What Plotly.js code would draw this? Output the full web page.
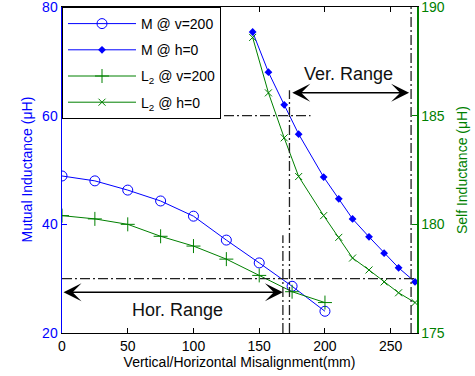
<!DOCTYPE html>
<html>
<head>
<meta charset="utf-8">
<script src="https://cdn.plot.ly/plotly-3.0.1.min.js"></script>
<style>html,body{margin:0;padding:0;background:#fff;}#plot{width:475px;height:376px;}</style>
</head>
<body>
<div id="plot"></div>
<script>
// Data
const xV = [0, 25, 50, 75, 100, 125, 150, 175, 200];
const M_v200 = [48.9, 48.0, 46.3, 44.3, 41.5, 37.1, 32.9, 28.6, 24.0];
const L2_v200 = [180.4, 180.25, 180.0, 179.45, 179.0, 178.4, 177.65, 176.9, 176.4];

const xH = [145, 157, 169, 180, 199, 210.5, 221, 233.5, 245, 256, 268.5];
const M_h0 = [75.4, 68.0, 62.0, 56.6, 48.7, 44.7, 41.0, 37.7, 34.7, 32.0, 29.4];
const L2_h0 = [188.6, 186.05, 183.98, 182.2, 180.4, 179.4, 178.45, 177.9, 177.35, 176.85, 176.4];

const xTicks = [0, 50, 100, 150, 200, 250];
const yTicks = [20, 40, 60, 80];
const y2Ticks = [175, 180, 185, 190];

// Guide lines (dash-dot) and range arrows
const hGuideY = [60, 30];
const hGuideXEnd = [189, 270];
const vGuideX = [168, 173, 265.5];
const vGuideYTop = [38, 64.7, 80];
const horRange = {x0: 0, x1: 168, y: 27.5, label: 'Hor. Range', lx: 88, ly: 24.3};
const verRange = {x0: 174, x1: 264, y: 64.2, label: 'Ver. Range', lx: 218, ly: 67.7};

const BLUE = '#0000ff';
const GREEN = '#008000';
const FONT = 'Arial, "Liberation Sans", sans-serif';

const traces = [
  {x: xV, y: M_v200, name: 'M @ v=200', mode: 'lines+markers', yaxis: 'y', legendgroup: 'a',
   line: {color: BLUE, width: 1}, marker: {symbol: 'circle-open', size: 10, color: BLUE, line: {width: 1}}},
  {x: xH, y: M_h0, name: 'M @ h=0', mode: 'lines+markers', yaxis: 'y', legendgroup: 'b',
   line: {color: BLUE, width: 1}, marker: {symbol: 'diamond', size: 6, color: BLUE}},
  {x: xV, y: L2_v200, name: 'L<sub>2</sub> @ v=200', mode: 'lines+markers', yaxis: 'y2', legendgroup: 'c',
   line: {color: GREEN, width: 1}, marker: {symbol: 'cross-thin-open', size: 10, color: GREEN, line: {width: 1, color: GREEN}}},
  {x: xH, y: L2_h0, name: 'L<sub>2</sub> @ h=0', mode: 'lines+markers', yaxis: 'y2', legendgroup: 'd',
   line: {color: GREEN, width: 1}, marker: {symbol: 'x-thin-open', size: 7, color: GREEN, line: {width: 1, color: GREEN}}}
];

const dash = '10px,3px,2px,3px';
const shapes = [];
hGuideY.forEach((y, i) => shapes.push({type: 'line', xref: 'x', yref: 'y', x0: 0, x1: hGuideXEnd[i], y0: y, y1: y,
  line: {color: '#222', width: 1.3, dash: dash}}));
vGuideX.forEach((x, i) => shapes.push({type: 'line', xref: 'x', yref: 'y', x0: x, x1: x, y0: 20, y1: vGuideYTop[i],
  line: {color: '#222', width: 1.3, dash: dash}}));

function rangeArrow(r) {
  return {xref: 'x', yref: 'y', axref: 'x', ayref: 'y', x: r.x1, y: r.y, ax: r.x0, ay: r.y,
    text: '', showarrow: true, arrowside: 'end+start', arrowhead: 3, arrowsize: 2, arrowwidth: 1.5, arrowcolor: '#000'};
}
function rangeLabel(r) {
  return {xref: 'x', yref: 'y', x: r.lx, y: r.ly, text: r.label, showarrow: false,
    font: {family: FONT, size: 18, color: '#111'}};
}
const annotations = [
  rangeArrow(horRange), rangeArrow(verRange), rangeLabel(horRange), rangeLabel(verRange),
  {xref: 'paper', yref: 'paper', x: -0.1, y: 0.5, xanchor: 'center', yanchor: 'middle', textangle: -90,
   text: 'Mutual Inductance (μH)', showarrow: false, font: {family: FONT, size: 14, color: BLUE}},
  {xref: 'paper', yref: 'paper', x: 1.127, y: 0.5, xanchor: 'center', yanchor: 'middle', textangle: -90,
   text: 'Self Inductance (μH)', showarrow: false, font: {family: FONT, size: 14, color: GREEN}}
];

const layout = {
  width: 475, height: 376,
  margin: {l: 62, r: 58, t: 7, b: 43, pad: 0},
  paper_bgcolor: '#fff', plot_bgcolor: '#fff',
  font: {family: FONT, size: 14, color: '#000'},
  showlegend: true,
  legend: {x: 0, y: 1, xanchor: 'left', yanchor: 'top', bgcolor: '#fff', bordercolor: '#000', borderwidth: 1,
    font: {family: FONT, size: 14, color: '#000'}, traceorder: 'grouped', tracegroupgap: 5, itemwidth: 68},
  xaxis: {range: [0, 270], tickvals: xTicks, ticks: 'inside', ticklen: 5, tickcolor: '#000',
    showline: true, linecolor: '#000', linewidth: 1, mirror: 'ticks', showgrid: false, zeroline: false,
    tickfont: {family: FONT, size: 14, color: '#000'}, ticklabeloverflow: 'allow',
    title: {text: 'Vertical/Horizontal Misalignment(mm)', font: {family: FONT, size: 14, color: '#000'}, standoff: 4}},
  yaxis: {range: [20, 80], tickvals: yTicks, ticks: 'inside', ticklen: 5, tickcolor: BLUE,
    showline: true, linecolor: BLUE, linewidth: 1.5, showgrid: false, zeroline: false,
    tickfont: {family: FONT, size: 14, color: BLUE}, ticklabeloverflow: 'allow'},
  yaxis2: {range: [175, 190], tickvals: y2Ticks, overlaying: 'y', side: 'right', ticks: 'inside', ticklen: 5, tickcolor: GREEN,
    showline: true, linecolor: GREEN, linewidth: 1.5, showgrid: false, zeroline: false,
    tickfont: {family: FONT, size: 14, color: GREEN}, ticklabeloverflow: 'allow'},
  shapes: shapes,
  annotations: annotations
};

Plotly.newPlot('plot', traces, layout, {displayModeBar: false, staticPlot: true});
</script>
</body>
</html>
